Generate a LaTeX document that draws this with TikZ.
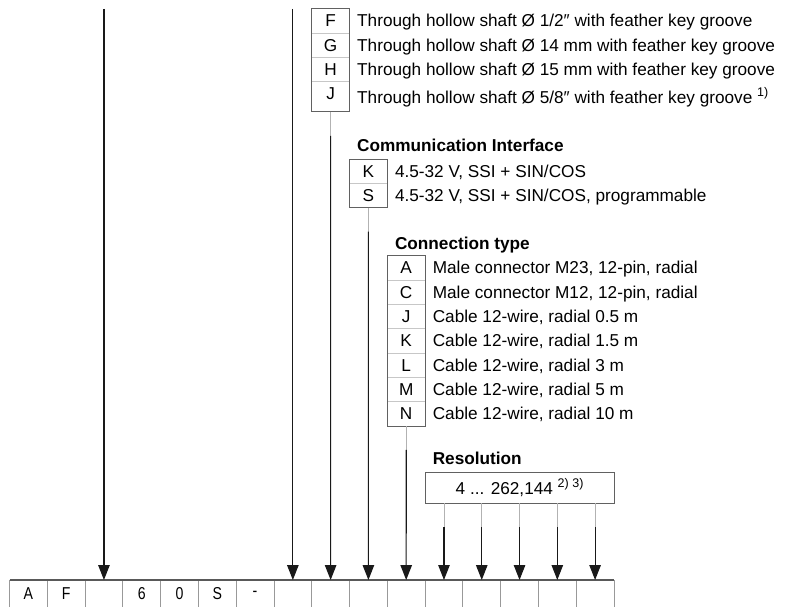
\documentclass[tikz,border=0pt]{standalone}
\usepackage{fontspec}
\setmainfont{Liberation Sans}
\newfontfamily\condfont[FakeStretch=0.82]{Liberation Sans}
\usetikzlibrary{
    arrows.meta,
    positioning,
    calc,
    fit
}
% footnote mark after a text
\newcommand{\fnmark}[1]{\raisebox{6.5pt}{\fontsize{12.5}{13}\selectfont #1}}
\tikzset{
    % --- Letter cell of an option list ---
    option/.style = {
        rectangle, draw=black!22, line width=0.8pt,
        minimum width=37.8pt, minimum height=24.3pt,
        inner sep=0pt, outer sep=0pt,
        font=\fontsize{17.2}{20}\selectfont
    },
    % --- Frame round an option list ---
    option frame/.style = {
        rectangle, draw=black!62, line width=0.9pt,
        inner sep=0pt, outer sep=0pt
    },
    % --- Text beside an option letter ---
    desc/.style = {
        inner sep=0pt, font=\fontsize{17.2}{20}\selectfont
    },
    % --- Group heading ---
    heading/.style = {
        anchor=base west, inner sep=0pt,
        font=\fontsize{17.2}{20}\selectfont\bfseries
    },
    % --- Cell of the type code ---
    code cell/.style = {
        rectangle, draw=black!40, line width=0.8pt,
        minimum width=37.78pt, minimum height=28pt,
        inner sep=0pt, outer sep=0pt,
        font=\fontsize{17.2}{20}\condfont
    },
    % --- Pointer into the type code ---
    pointer/.style = {
        -{Triangle[length=15pt, width=11.5pt]},
        line width=1.1pt, black!90
    },
    % --- Thin lead-off below a list ---
    lead/.style = {
        black!30, line width=0.7pt
    }
}

\begin{document}
\begin{tikzpicture}[x=1pt, y=-1pt]
\useasboundingbox (0,0) rectangle (789,607);
\clip (0,0) rectangle (789,607);

% ---------------------------------------------------------
% Type code (bottom row)
% ---------------------------------------------------------
\foreach \ch [count=\i] in {A,F,{},6,0,S,-,{},{},{},{},{},{},{},{},{}}
    \node[code cell] (c\i) at ({9.5+37.78*(\i-0.5)}, 594) {\ch};
\draw[black!65, line width=1.3pt] (c1.north west) -- (c16.north east);

% ---------------------------------------------------------
% Shaft options
% ---------------------------------------------------------
\node[option] (shF) at (330.6, 21) {F};
\node[option, below=0pt of shF] (shG) {G};
\node[option, below=0pt of shG] (shH) {H};
\node[option, below=0pt of shH, minimum height=30pt, text depth=6pt] (shJ) {J};
\node[option frame, fit=(shF)(shJ)] (shaft) {};

\node[desc, right=7.5pt of shF.base east, anchor=base west] (dF)
    {Through hollow shaft Ø 1/2″ with feather key groove};
\node[desc, right=7.5pt of shG.base east, anchor=base west] (dG)
    {Through hollow shaft Ø 14 mm with feather key groove};
\node[desc, right=7.5pt of shH.base east, anchor=base west] (dH)
    {Through hollow shaft Ø 15 mm with feather key groove};
\node[desc, right=7.5pt of shJ.base east, anchor=base west, yshift=-3.5pt] (dJ)
    {Through hollow shaft Ø 5/8″ with feather key groove \fnmark{1)}};

% ---------------------------------------------------------
% Communication interface
% ---------------------------------------------------------
\node[heading] (hComm) at (dJ.west |- 0,151) {Communication Interface};

\node[option] (ifK) at (368.4, 171.2) {K};
\node[option, below=0pt of ifK] (ifS) {S};
\node[option frame, fit=(ifK)(ifS)] (iface) {};

\node[desc, right=7.5pt of ifK.base east, anchor=base west] (dK)
    {4.5-32 V, SSI + SIN/COS};
\node[desc, right=7.5pt of ifS.base east, anchor=base west] (dS)
    {4.5-32 V, SSI + SIN/COS, programmable};

% ---------------------------------------------------------
% Connection type
% ---------------------------------------------------------
\node[heading] (hConn) at (dS.west |- 0,249) {Connection type};

\node[option] (coA) at (406.2, 268) {A};
\node[option, below=0pt of coA] (coC) {C};
\node[option, below=0pt of coC] (coJ) {J};
\node[option, below=0pt of coJ] (coK) {K};
\node[option, below=0pt of coK] (coL) {L};
\node[option, below=0pt of coL] (coM) {M};
\node[option, below=0pt of coM] (coN) {N};
\node[option frame, fit=(coA)(coN)] (conn) {};

\node[desc, right=7.5pt of coA.base east, anchor=base west] (dA)
    {Male connector M23, 12-pin, radial};
\node[desc, right=7.5pt of coC.base east, anchor=base west] (dC)
    {Male connector M12, 12-pin, radial};
\node[desc, right=7.5pt of coJ.base east, anchor=base west] (dCJ)
    {Cable 12-wire, radial 0.5 m};
\node[desc, right=7.5pt of coK.base east, anchor=base west] (dCK)
    {Cable 12-wire, radial 1.5 m};
\node[desc, right=7.5pt of coL.base east, anchor=base west] (dL)
    {Cable 12-wire, radial 3 m};
\node[desc, right=7.5pt of coM.base east, anchor=base west] (dM)
    {Cable 12-wire, radial 5 m};
\node[desc, right=7.5pt of coN.base east, anchor=base west] (dN)
    {Cable 12-wire, radial 10 m};

% ---------------------------------------------------------
% Resolution
% ---------------------------------------------------------
\node[heading] (hRes) at (dN.west |- 0,464) {Resolution};

\node[option frame, desc, minimum width=189pt, minimum height=31pt, anchor=north west] (res)
    at (c12.west |- 0,472) {4 ... 262,144 \fnmark{2) 3)}};

% ---------------------------------------------------------
% Pointers into the type code
% ---------------------------------------------------------
\coordinate (top3) at (c3 |- 0,9);
\coordinate (top8) at (c8 |- 0,9);
\draw[pointer] (top3) -- (c3.north);
\draw[pointer] (top8) -- (c8.north);

\coordinate (kShaft) at ($(shaft.south)+(0,24)$);
\draw[lead] (shaft.south) -- (kShaft);
\draw[pointer] (kShaft) -- (c9.north);

\coordinate (kIface) at ($(iface.south)+(0,24)$);
\draw[lead] (iface.south) -- (kIface);
\draw[pointer] (kIface) -- (c10.north);

\coordinate (kConn) at ($(conn.south)+(0,24)$);
\draw[lead] (conn.south) -- (kConn);
\draw[pointer] (kConn) -- (c11.north);

\foreach \i in {12,...,16} {
    \coordinate (rs\i) at (c\i |- res.south);
    \coordinate (rk\i) at ($(rs\i)+(0,24)$);
    \draw[lead] (rs\i) -- (rk\i);
    \draw[pointer] (rk\i) -- (c\i.north);
}

\end{tikzpicture}
\end{document}
